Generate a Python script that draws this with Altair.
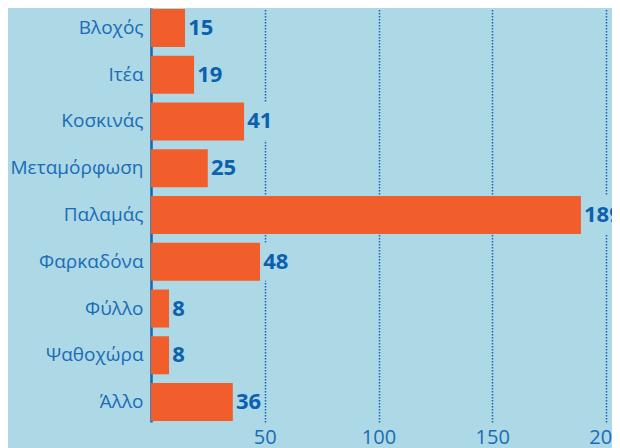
import altair as alt
import pandas as pd

places = ["Βλοχός", "Ιτέα", "Κοσκινάς", "Μεταμόρφωση", "Παλαμάς",
          "Φαρκαδόνα", "Φύλλο", "Ψαθοχώρα", "Άλλο"]
counts = [15, 19, 41, 25, 189, 48, 8, 8, 36]
x_ticks = [50, 100, 150, 200]

df = pd.DataFrame({"place": places, "count": counts})

BG = "#add8e6"
BAR = "#f15e2c"
LABEL = "#1a6cb6"
VALUE = "#0b61ae"
FONT = "Open Sans"

y_enc = alt.Y("place:N", sort=places, title=None,
              scale=alt.Scale(paddingInner=0.187, paddingOuter=0.02),
              axis=alt.Axis(labelFont=FONT, labelFontSize=19, labelColor=LABEL,
                            labelPadding=8, ticks=False, domain=True,
                            domainColor="#1565b0", domainWidth=2.5, grid=False))
x_scale = alt.Scale(domain=[0, 200], nice=False)
x_enc = alt.X("count:Q", scale=x_scale, title=None,
              axis=alt.Axis(values=x_ticks, labelFont=FONT, labelFontSize=20,
                            labelColor=LABEL, ticks=False, domain=False,
                            labelPadding=5, grid=True, gridColor="#1565c0",
                            gridDash=[1.5, 1.5], gridWidth=1.5,
                            labelFlush=False))

base = alt.Chart(df)

bars = base.mark_bar(color=BAR).encode(y=y_enc, x=x_enc)

label_bg = base.transform_calculate(
    end="datum.count + 1.5 + length(toString(datum.count)) * 5.6"
).mark_bar(color=BG).encode(
    y=alt.Y("place:N", sort=places),
    x=alt.X("count:Q", scale=x_scale),
    x2="end:Q",
)

labels = base.mark_text(align="left", baseline="middle", dx=3, font=FONT,
                        fontSize=22, fontWeight="bold", color=VALUE).encode(
    y=alt.Y("place:N", sort=places),
    x=alt.X("count:Q", scale=x_scale),
    text="count:Q",
)

chart = alt.layer(bars, label_bg, labels).properties(
    width=455, height=414,
    background=BG,
    padding={"left": 143, "top": 0, "right": 6, "bottom": 26},
    autosize=alt.AutoSizeParams(type="none"),
).configure_view(stroke=None)

chart.save("out.html", embed_options={"renderer": "svg", "actions": False})
